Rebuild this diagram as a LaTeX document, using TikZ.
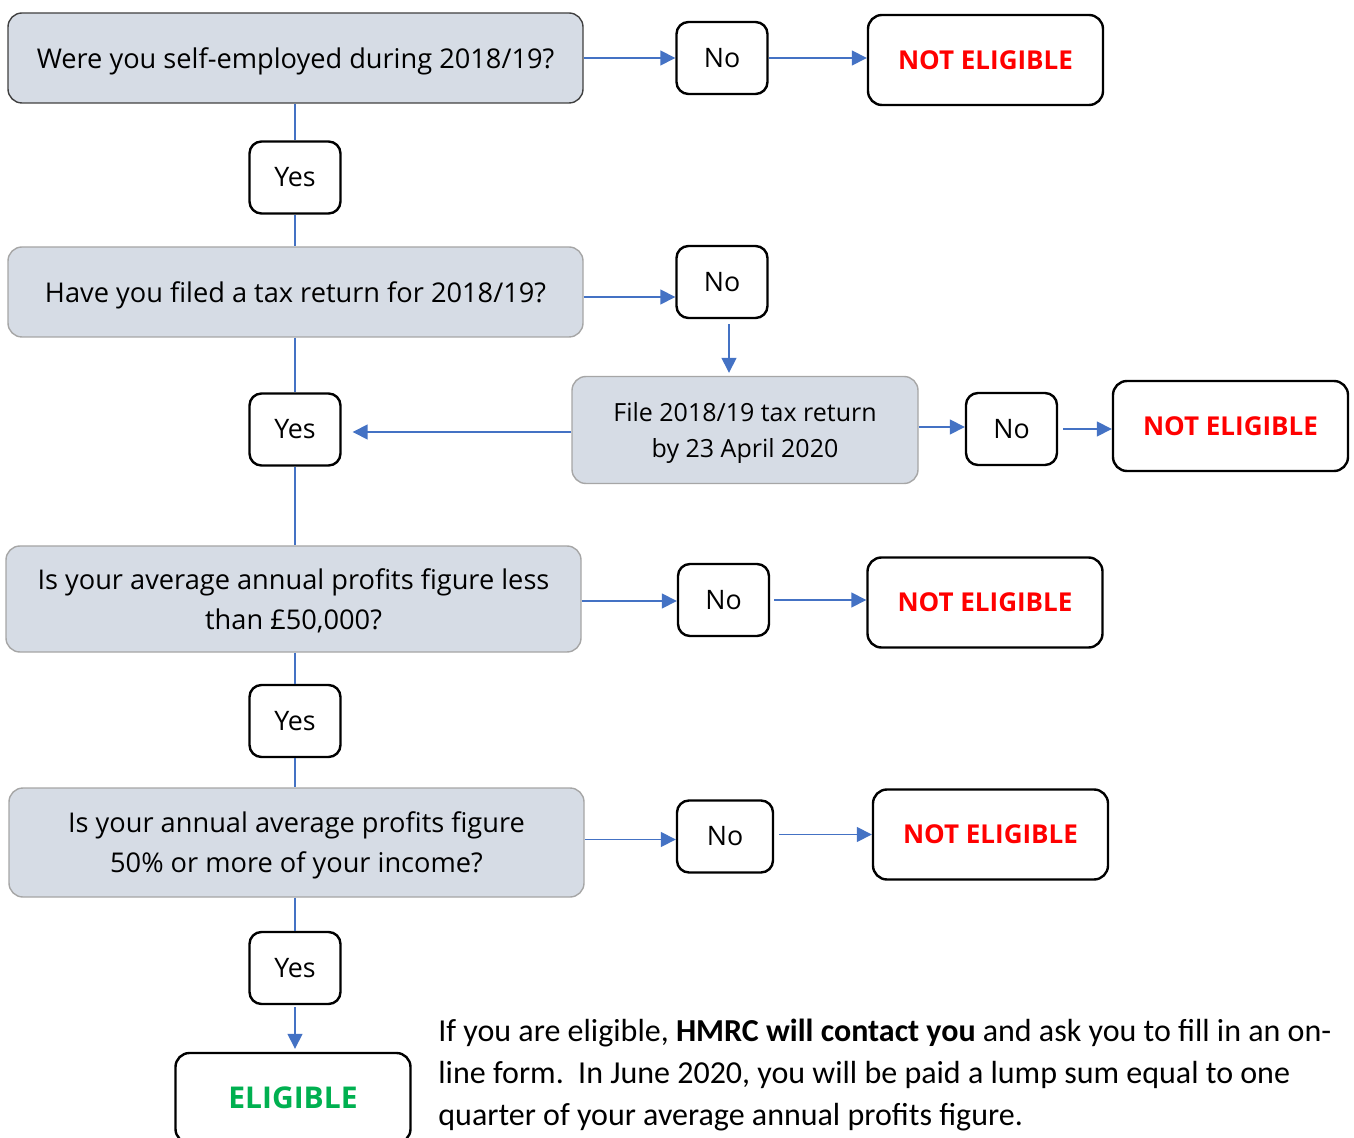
\documentclass[tikz,border=0pt]{standalone}
\usepackage{fontspec}
\setmainfont{Open Sans}
\newfontfamily\notefont{Carlito}
\usetikzlibrary{arrows.meta}

\definecolor{qfill}{HTML}{D6DCE5}
\definecolor{qline}{HTML}{A6A6A6}
\definecolor{flow}{HTML}{4472C4}
\definecolor{nored}{HTML}{FF0000}
\definecolor{okgreen}{HTML}{00B050}

\tikzset{
  qbox/.style={draw=qline, fill=qfill, line width=0.7pt, rounded corners=7pt,
    minimum width=287.5pt, minimum height=45pt, inner sep=0pt, align=center,
    text depth=0pt, font=\fontsize{13.6}{20}\selectfont},
  ansbox/.style={draw=black, line width=1.2pt, rounded corners=6pt,
    minimum width=45.5pt, minimum height=36pt, inner sep=0pt,
    font=\fontsize{13.4}{16}\selectfont},
  endbox/.style={draw=black, line width=1.2pt, rounded corners=7pt,
    minimum width=117.5pt, minimum height=45pt, inner sep=0pt,
    font=\bfseries\fontsize{13}{16}\selectfont, text=nored},
  link/.style={draw=flow, line width=0.75pt},
  arr/.style={link, -{Triangle[length=7.5pt,width=7.5pt]}}
}

\begin{document}
\begin{tikzpicture}[x=0.5pt,y=-0.5pt]
  \useasboundingbox (0,0) rectangle (1354,1138);

  % questions
  \node[qbox, draw=black!75] (Q1) at (295.5,58) {Were you self-employed during 2018/19?};
  \node[qbox] (Q2) at (295.5,292) {Have you filed a tax return for 2018/19?};
  \node[qbox, minimum height=53pt] (Q3) at (293.5,599) {Is your average annual profits figure less\\than £50,000?};
  \node[qbox, minimum height=54.5pt] (Q4) at (296.5,842.5) {Is your annual average profits figure\\50\% or more of your income?};
  \node[qbox, minimum width=173pt, minimum height=53.5pt, font=\fontsize{12.5}{18}\selectfont] (F) at (745,430) {File 2018/19 tax return\\by 23 April 2020};

  % yes boxes
  \node[ansbox] (Y1) at (295,177.5) {Yes};
  \node[ansbox] (Y2) at (295,429.5) {Yes};
  \node[ansbox] (Y3) at (295,721) {Yes};
  \node[ansbox] (Y4) at (295,968) {Yes};

  % no boxes
  \node[ansbox] (N1) at (722,58) {No};
  \node[ansbox] (N2) at (722,282) {No};
  \node[ansbox] (N3) at (1011.5,429) {No};
  \node[ansbox] (N4) at (723.5,600) {No};
  \node[ansbox, minimum width=48pt] (N5) at (725,836.5) {No};

  % outcomes
  \node[endbox] (E1) at (985.5,60) {NOT ELIGIBLE};
  \node[endbox] (E2) at (1230.5,426) {NOT ELIGIBLE};
  \node[endbox] (E3) at (985,602.5) {NOT ELIGIBLE};
  \node[endbox] (E4) at (990.5,834.5) {NOT ELIGIBLE};
  \node[endbox, text=okgreen, font=\bfseries\fontsize{15}{16}\selectfont] (E5) at (293,1098) {ELIGIBLE};

  % yes column
  \draw[link] (Y1.north |- Q1.south) -- (Y1.north);
  \draw[link] (Y1.south) -- (Y1.south |- Q2.north);
  \draw[link] (Y2.north |- Q2.south) -- (Y2.north);
  \draw[link] (Y2.south) -- (Y2.south |- Q3.north);
  \draw[link] (Y3.north |- Q3.south) -- (Y3.north);
  \draw[link] (Y3.south) -- (Y3.south |- Q4.north);
  \draw[link] (Y4.north |- Q4.south) -- (Y4.north);
  \draw[arr, shorten <=1pt, shorten >=1.5pt] (Y4.south) -- (Y4.south |- E5.north);

  % no branches
  \draw[arr] (Q1.east) -- (Q1.east -| N1.west);
  \draw[arr] (N1.east) -- (N1.east -| E1.west);
  \draw[arr] ([yshift=-2.5pt]Q2.east) -- ([yshift=-2.5pt]Q2.east -| N2.west);
  \draw[arr, shorten <=2.5pt, shorten >=1.5pt] ([xshift=3.5pt]N2.south) -- ([xshift=3.5pt]N2.south |- F.north);
  \draw[arr, shorten >=5.5pt] ([yshift=-1pt]F.west) -- ([yshift=-1pt]F.west -| Y2.east);
  \draw[arr] ([yshift=1.5pt]F.east) -- ([yshift=1.5pt]F.east -| N3.west);
  \draw[arr, shorten <=2.5pt] (N3.east) -- (N3.east -| E2.west);
  \draw[arr] ([yshift=-1pt]Q3.east) -- ([yshift=-1pt]Q3.east -| N4.west);
  \draw[arr, shorten <=2pt] (N4.east) -- (N4.east -| E3.west);
  \draw[arr] ([yshift=1.5pt]Q4.east) -- ([yshift=1.5pt]Q4.east -| N5.west);
  \draw[arr, shorten <=2.5pt] ([yshift=1pt]N5.east) -- ([yshift=1pt]N5.east -| E4.west);

  % note
  \node[anchor=north west, inner sep=0pt, align=left,
    font=\notefont\fontsize{16}{21}\selectfont] (T) at (438,1019)
    {If you are eligible, \textbf{HMRC will contact you} and ask you to fill in an on-\\
     line form.\ \ In June 2020, you will be paid a lump sum equal to one\\
     quarter of your average annual profits figure.};
\end{tikzpicture}
\end{document}
